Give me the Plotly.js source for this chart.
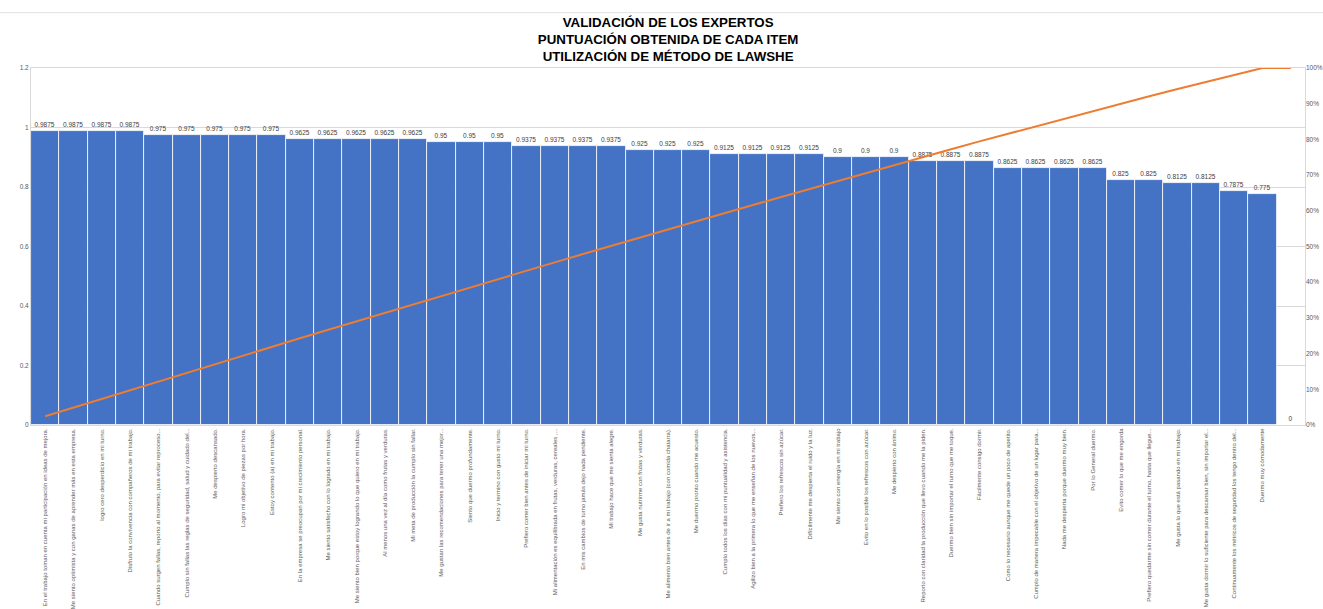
<!DOCTYPE html>
<html>
<head>
<meta charset="utf-8">
<script src="https://cdn.plot.ly/plotly-3.0.1.min.js"></script>
<style>html,body{margin:0;padding:0;background:#fff;}#chart{width:1323px;height:609px;}</style>
</head>
<body>
<div id="chart"></div>
<script>
const items = [
  "En el trabajo toman en cuenta mi participación en ideas de mejora.",
  "Me siento optimista y con ganas de aprender más en esta empresa.",
  "logro cero desperdicio en mi turno.",
  "Disfruto la convivencia con compañeros de mi trabajo.",
  "Cuando surgen fallas, reporto al momento, para evitar reproceso...",
  "Cumplo sin fallas las reglas de seguridad, salud y cuidado del...",
  "Me despierto descansado.",
  "Logro mi objetivo de piezas por hora.",
  "Estoy contento (a) en mi trabajo.",
  "En la empresa se preocupan por mi crecimiento personal.",
  "Me siento satisfecho con lo logrado en mi trabajo.",
  "Me siento bien porque estoy logrando lo que quiero en mi trabajo.",
  "Al menos una vez al día como frutas y verduras.",
  "Mi meta de producción la cumplo sin fallar.",
  "Me gustan las recomendaciones para tener una mejor...",
  "Siento que duermo profundamente.",
  "Inicio y termino con gusto mi turno.",
  "Prefiero comer bien antes de iniciar mi turno.",
  "Mi alimentación es equilibrada en frutas, verduras, cereales ,...",
  "En mis cambios de turno jamás dejo nada pendiente.",
  "Mi trabajo hace que me sienta alegre.",
  "Me gusta nutrirme con frutas y verduras.",
  "Me alimento bien antes de ir a mi trabajo (con comida chatarra).",
  "Me duermo pronto cuando me acuesto.",
  "Cumplo todos los días con mi puntualidad y asistencia.",
  "Agilizo bien a la primera lo que me enseñan de los nuevos...",
  "Prefiero los refrescos sin azúcar.",
  "Difícilmente me despierta el ruido y la luz.",
  "Me siento con energía en mi trabajo",
  "Evito en lo posible los refrescos con azúcar.",
  "Me despierto con ánimo.",
  "Reporto con claridad la producción que llevo cuando me la piden.",
  "Duermo bien sin importar el turno que me toque.",
  "Fácilmente consigo dormir.",
  "Como lo necesario aunque me quede un poco de apetito.",
  "Cumplo de manera impecable con el objetivo de un lugar para...",
  "Nada me despierta porque duermo muy bien.",
  "Por lo General duermo.",
  "Evito comer lo que me engorda",
  "Prefiero quedarme sin comer durante el turno, hasta que llegue...",
  "Me gusta lo que está pasando en mi trabajo.",
  "Me gusta dormir lo suficiente para descansar bien, sin importar el...",
  "Continuamente los métricos de seguridad los tengo dentro del...",
  "Duermo muy cómodamente",
  " "
];

const scores = [
  0.9875, 0.9875, 0.9875, 0.9875,
  0.975, 0.975, 0.975, 0.975, 0.975,
  0.9625, 0.9625, 0.9625, 0.9625, 0.9625,
  0.95, 0.95, 0.95,
  0.9375, 0.9375, 0.9375, 0.9375,
  0.925, 0.925, 0.925,
  0.9125, 0.9125, 0.9125, 0.9125,
  0.9, 0.9, 0.9,
  0.8875, 0.8875, 0.8875,
  0.8625, 0.8625, 0.8625, 0.8625,
  0.825, 0.825,
  0.8125, 0.8125,
  0.7875,
  0.775,
  0
];

const cumulativePct = [
  0.0245, 0.0490, 0.0735, 0.0980, 0.1222, 0.1464, 0.1705, 0.1947, 0.2189,
  0.2428, 0.2667, 0.2905, 0.3144, 0.3383, 0.3619, 0.3854, 0.4090, 0.4322,
  0.4555, 0.4788, 0.5020, 0.5250, 0.5479, 0.5709, 0.5935, 0.6161, 0.6388,
  0.6614, 0.6837, 0.7060, 0.7284, 0.7504, 0.7724, 0.7944, 0.8158, 0.8372,
  0.8586, 0.8800, 0.9005, 0.9209, 0.9411, 0.9612, 0.9808, 1.0000, 1.0000
];

const titleLines = [
  "VALIDACIÓN DE LOS EXPERTOS",
  "PUNTUACIÓN OBTENIDA DE CADA ITEM",
  "UTILIZACIÓN DE MÉTODO DE LAWSHE"
];

const barTrace = {
  type: 'bar',
  x: items,
  y: scores,
  text: scores.map(v => String(v)),
  textposition: 'outside',
  textfont: {family: 'Liberation Sans, Arial, sans-serif', size: 6.5, color: '#404040'},
  cliponaxis: false,
  marker: {color: '#4472C4', line: {color: '#ffffff', width: 0.8}},
  hoverinfo: 'x+y',
  showlegend: false
};

const lineTrace = {
  type: 'scatter',
  mode: 'lines',
  x: items,
  y: cumulativePct,
  yaxis: 'y2',
  line: {color: '#ED7D31', width: 2},
  showlegend: false
};

const tickFont = {family: 'Liberation Sans, Arial, sans-serif', size: 6.5, color: '#595959'};

const layout = {
  width: 1323,
  height: 609,
  margin: {l: 31, r: 18, t: 68, b: 184, pad: 0},
  paper_bgcolor: '#ffffff',
  plot_bgcolor: '#ffffff',
  title: {
    text: titleLines.join('<br>'),
    font: {family: 'Liberation Sans, Arial, sans-serif', size: 13.3, color: '#000000', weight: 'bold'},
    x: 0.505, xanchor: 'center',
    y: 0.956, yanchor: 'top', yref: 'container'
  },
  bargap: 0,
  xaxis: {
    type: 'category',
    tickangle: -90,
    tickfont: {family: 'Liberation Sans, Arial, sans-serif', size: 6.0, color: '#595959'},
    automargin: false,
    showline: true, linecolor: '#d9d9d9', linewidth: 1, mirror: true,
    ticks: '', showgrid: false, fixedrange: true
  },
  yaxis: {
    range: [0, 1.2], dtick: 0.2, tick0: 0,
    tickfont: tickFont,
    showgrid: true, gridcolor: '#d9d9d9', gridwidth: 1,
    zeroline: false,
    showline: true, linecolor: '#d9d9d9', linewidth: 1, mirror: true,
    ticks: '', automargin: false, ticklen: 0,
    tickformat: '~g'
  },
  yaxis2: {
    overlaying: 'y', side: 'right',
    range: [0, 1], dtick: 0.1, tick0: 0,
    tickformat: '.0%',
    tickfont: tickFont,
    showgrid: false, zeroline: false, showline: false,
    ticks: '', automargin: false
  },
  shapes: [
    {type: 'line', xref: 'paper', yref: 'paper', x0: -0.03, x1: 1.02, y0: 1.155, y1: 1.155, line: {color: '#e0e0e0', width: 1}}
  ]
};

Plotly.newPlot('chart', [barTrace, lineTrace], layout, {displayModeBar: false, responsive: false});
</script>
</body>
</html>
